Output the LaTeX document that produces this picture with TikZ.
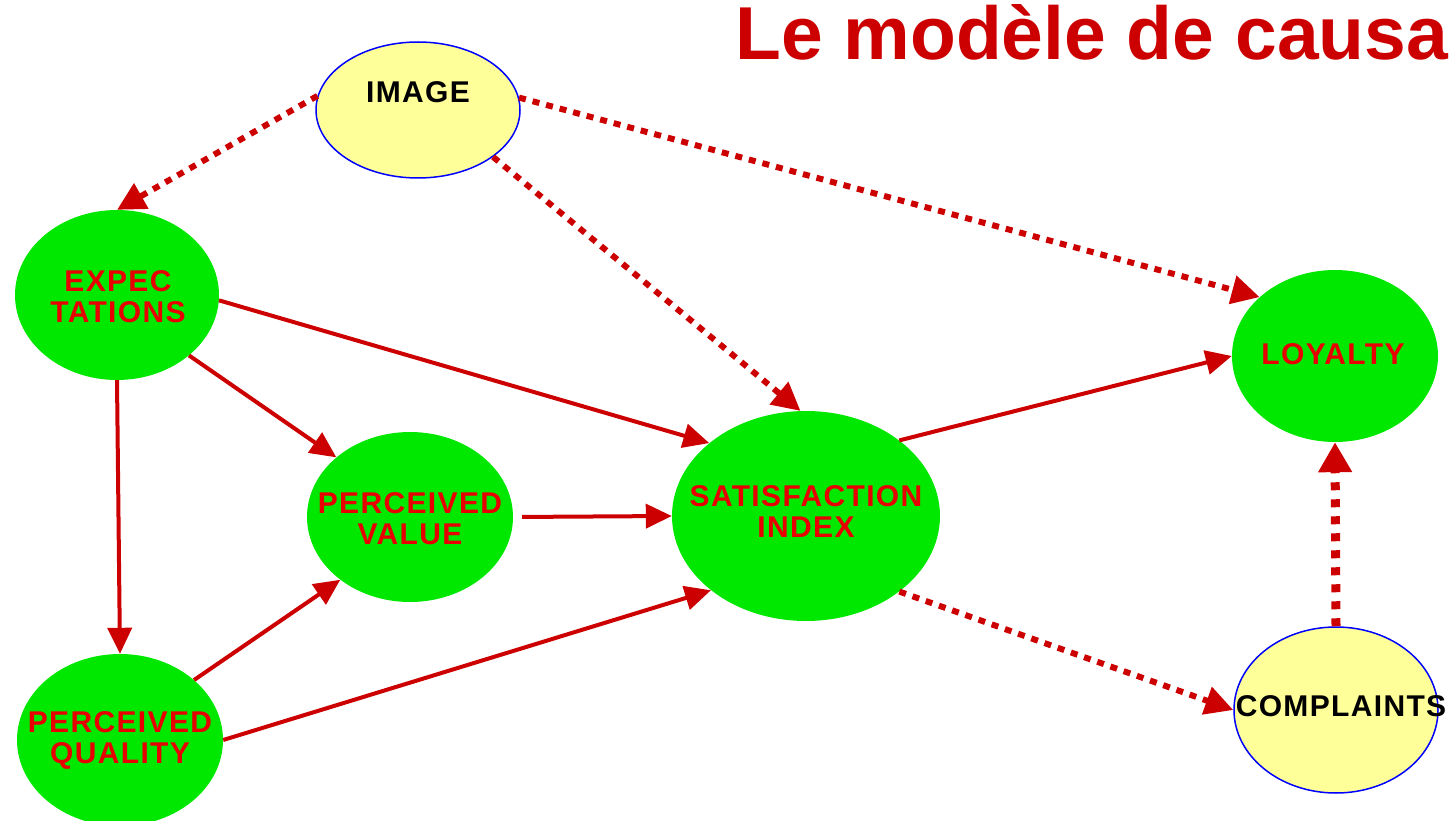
\documentclass[tikz,border=0pt]{standalone}
\usepackage{fontspec}
\setmainfont{Liberation Sans}
\usetikzlibrary{shapes.geometric,arrows.meta}
\definecolor{nodegreen}{RGB}{0,232,0}
\definecolor{nodeyellow}{RGB}{255,255,153}
\definecolor{arrowred}{RGB}{204,0,0}
\definecolor{textred}{RGB}{232,0,0}
\definecolor{titlered}{RGB}{204,0,0}
\newfontfamily\nodefont[LetterSpace=4.5]{Liberation Sans}
\tikzset{
  greenell/.style={ellipse, fill=nodegreen, inner sep=0pt},
  yellowell/.style={ellipse, fill=nodeyellow, draw=blue, line width=1.5pt, inner sep=0pt},
  redtxt/.style={text=textred, font=\nodefont\fontsize{30}{31}\selectfont\bfseries, align=center, inner sep=0pt},
  blacktxt/.style={text=black, font=\nodefont\fontsize{30}{31}\selectfont\bfseries, align=center, inner sep=0pt},
  solidarrow/.style={draw=arrowred, line width=4pt, -{Triangle[length=26pt,width=24pt]}},
  dotarrow/.style={draw=arrowred, line width=6pt, dash pattern=on 7pt off 7pt, -{Triangle[length=28pt,width=28pt]}},
  thickdotarrow/.style={draw=arrowred, line width=9pt, dash pattern=on 8pt off 9pt, -{Triangle[length=30pt,width=32pt]}},
}
\begin{document}
\begin{tikzpicture}[x=1pt,y=-1pt]
\useasboundingbox (0,0) rectangle (1452,821);
\clip (0,0) rectangle (1452,821);
% title
\node[anchor=base west, inner sep=0pt, text=titlered, font=\fontsize{75}{80}\selectfont\bfseries] (title) at (735,60) {Le modèle de causa};
% nodes
\node[yellowell, minimum width=204pt, minimum height=136pt] (img) at (418,110) {};
\node[blacktxt] (imgtxt) at (418,92) {IMAGE};
\node[greenell, minimum width=204pt, minimum height=170pt] (exp) at (117,295) {};
\node[redtxt] (exptxt) at (118,297) {EXPEC\\TATIONS};
\node[greenell, minimum width=206pt, minimum height=170pt] (pv) at (410,517) {};
\node[redtxt] (pvtxt) at (410,519) {PERCEIVED\\VALUE};
\node[greenell, minimum width=268pt, minimum height=210pt] (sat) at (806,516) {};
\node[redtxt] (sattxt) at (806,512) {SATISFACTION\\INDEX};
\node[greenell, minimum width=206pt, minimum height=172pt] (loy) at (1335,356) {};
\node[redtxt] (loytxt) at (1333,354) {LOYALTY};
\node[yellowell, minimum width=204pt, minimum height=166pt] (comp) at (1336,710) {};
\node[blacktxt] (comptxt) at (1341,706) {COMPLAINTS};
\node[greenell, minimum width=206pt, minimum height=172pt] (pq) at (120,740) {};
\node[redtxt] (pqtxt) at (120,740) {PERCEIVED\\QUALITY};
% connectors
\draw[dotarrow] (img.172) -- (exp.north);
\draw[dotarrow] (img.-32) -- (sat.93);
\draw[dotarrow] (img.7) -- (loy.142);
\draw[solidarrow] (exp.-3) -- (sat.143);
\draw[solidarrow] (exp.-40) -- (pv.141);
\draw[solidarrow] (exp.south) -- (pq.north);
\draw[solidarrow] (pq.39) -- (pv.222);
\draw[solidarrow] (pq.east) -- (sat.218);
\draw[solidarrow, shorten <=9pt] (pv.east) -- (sat.west);
\draw[solidarrow] (sat.39) -- (loy.west);
\draw[dotarrow] (sat.-39) -- (comp.west);
\draw[thickdotarrow] (comp.north) -- (loy.south);
\end{tikzpicture}
\end{document}
